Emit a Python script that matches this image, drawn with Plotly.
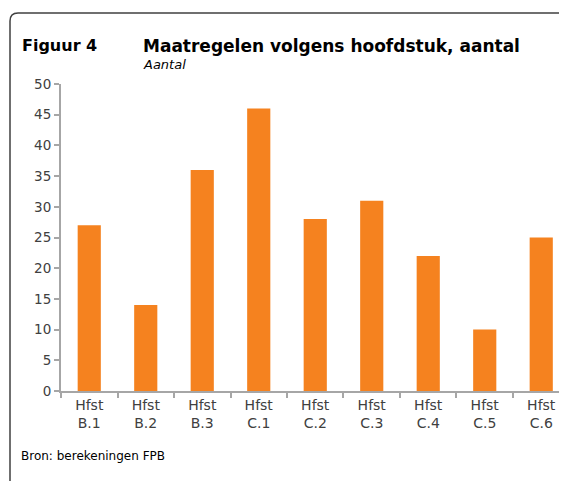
import plotly.graph_objects as go

# chart data
hoofdstukken = ["Hfst<br>B.1", "Hfst<br>B.2", "Hfst<br>B.3", "Hfst<br>C.1", "Hfst<br>C.2",
                "Hfst<br>C.3", "Hfst<br>C.4", "Hfst<br>C.5", "Hfst<br>C.6"]
aantal = [27, 14, 36, 46, 28, 31, 22, 10, 25]
y_ticks = [0, 5, 10, 15, 20, 25, 30, 35, 40, 45, 50]

# the page body has an 8px margin, so the figure is drawn 8px smaller
OFF = 8
W, H = 567 - OFF, 481 - OFF
L, R, T, B = 61 - OFF, 0, 84 - OFF, 481 - 391
ORANGE = "#F5821F"
AXIS = "#A6A6A6"
FONT = "DejaVu Sans"


def px(x, y):
    # window pixel -> paper coordinates
    x, y = x - OFF, y - OFF
    return (x - L) / (W - L - R), (H - B - y) / (H - T - B)


fig = go.Figure()

fig.add_trace(go.Bar(
    x=hoofdstukken,
    y=aantal,
    marker=dict(color=ORANGE, line=dict(width=0)),
    width=0.41,
    hoverinfo="x+y",
))

# rounded frame (top-left corner), open to the right/bottom
p0 = px(10, 490)
p1 = px(10, 21)
pc = px(10, 13)
p2 = px(18, 13)
p3 = px(575, 13)
frame = (f"M {p0[0]},{p0[1]} L {p1[0]},{p1[1]} Q {pc[0]},{pc[1]} {p2[0]},{p2[1]} "
         f"L {p3[0]},{p3[1]}")

fig.update_layout(
    width=W,
    height=H,
    margin=dict(l=L, r=R, t=T, b=B),
    paper_bgcolor="white",
    plot_bgcolor="white",
    showlegend=False,
    font=dict(family=FONT, size=13, color="#404040"),
    shapes=[dict(type="path", path=frame, xref="paper", yref="paper",
                 line=dict(color="#404040", width=1.5))],
    annotations=[
        dict(text="<b>Figuur 4</b>", x=px(20, 0)[0], y=px(0, 46)[1], xref="paper", yref="paper",
             xanchor="left", yanchor="middle", showarrow=False,
             font=dict(family=FONT, size=16, color="black")),
        dict(text="<b>Maatregelen volgens hoofdstuk, aantal</b>", x=px(141, 0)[0], y=px(0, 46)[1],
             xref="paper", yref="paper", xanchor="left", yanchor="middle", showarrow=False,
             font=dict(family=FONT, size=17, color="black")),
        dict(text="<i>Aantal</i>", x=px(141, 0)[0], y=px(0, 65)[1], xref="paper", yref="paper",
             xanchor="left", yanchor="middle", showarrow=False,
             font=dict(family=FONT, size=13, color="black")),
        dict(text="Bron: berekeningen FPB", x=px(19, 0)[0], y=px(0, 456)[1], xref="paper", yref="paper",
             xanchor="left", yanchor="middle", showarrow=False,
             font=dict(family=FONT, size=12, color="black")),
    ],
)

fig.update_xaxes(
    range=[-0.5, 8.456],
    showgrid=False,
    showline=True, linecolor=AXIS, linewidth=2,
    ticks="outside", tickson="boundaries", ticklen=5, tickcolor=AXIS, tickwidth=2,
    tickfont=dict(family=FONT, size=14, color="#404040"),
)
fig.update_yaxes(
    range=[0, 50],
    tickvals=y_ticks,
    showgrid=False, zeroline=False,
    showline=True, linecolor=AXIS, linewidth=2,
    ticks="outside", ticklen=5, tickcolor=AXIS, tickwidth=2,
    tickfont=dict(family=FONT, size=13.5, color="#404040"),
)

fig.write_html("out.html")
